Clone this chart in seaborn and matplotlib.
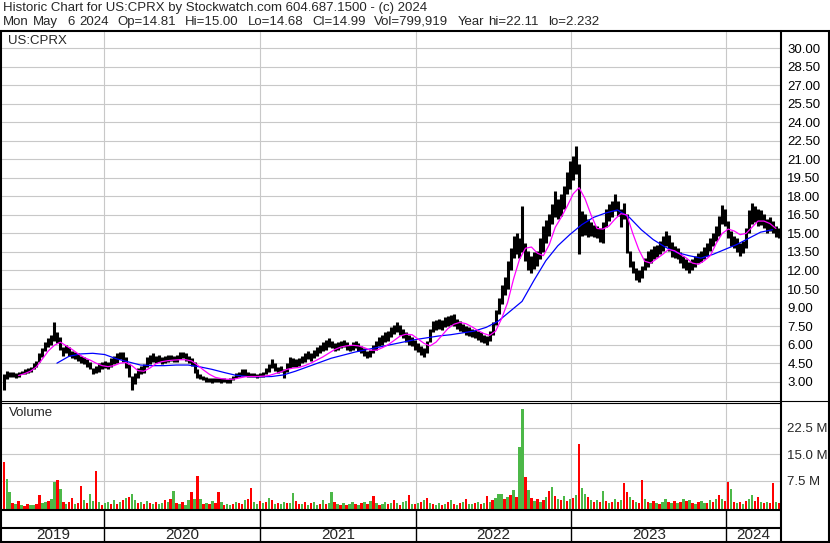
import numpy as np
import pandas as pd
import matplotlib
matplotlib.use("Agg")
import matplotlib.pyplot as plt
import seaborn as sns

W, H = 830, 543
sns.set_style("white")
plt.rcParams['font.family'] = ['Liberation Sans', 'DejaVu Sans']

# ---------------- data ----------------
week_dates = pd.date_range("2019-05-10", periods=261, freq="7D")

price_low = [
    2.3, 3.2, 3.4, 3.4, 3.3, 3.4, 3.6, 3.6, 3.7, 3.8,
    4.0, 4.2, 4.6, 5.0, 5.5, 5.8, 6.0, 6.3, 6.1, 5.6,
    5.1, 5.3, 5.1, 4.9, 4.8, 4.7, 4.5, 4.4, 4.2, 4.0,
    3.6, 3.7, 3.8, 4.0, 4.1, 4.0, 4.2, 4.4, 4.5, 4.8,
    4.6, 4.1, 3.4, 2.3, 2.8, 3.3, 3.6, 3.7, 4.2, 4.4,
    4.6, 4.5, 4.6, 4.4, 4.5, 4.6, 4.7, 4.6, 4.6, 4.8,
    4.9, 4.7, 4.5, 4.3, 3.7, 3.3, 3.2, 3.1, 3.0, 3.0,
    2.9, 3.0, 3.0, 2.9, 3.0, 2.9, 2.9, 3.1, 3.3, 3.4,
    3.5, 3.5, 3.4, 3.4, 3.4, 3.3, 3.4, 3.4, 3.6, 3.8,
    4.1, 3.9, 3.7, 3.8, 3.3, 3.8, 4.1, 4.2, 4.2, 4.3,
    4.5, 4.6, 4.8, 4.7, 4.9, 5.1, 5.3, 5.5, 5.6, 5.8,
    5.7, 5.5, 5.6, 5.7, 5.8, 5.6, 5.5, 5.6, 5.7, 5.5,
    5.3, 5.1, 4.9, 5.0, 5.3, 5.6, 5.9, 6.0, 6.2, 6.3,
    6.6, 6.9, 7.0, 6.8, 6.5, 6.2, 6.0, 5.9, 5.6, 5.4,
    5.2, 5.0, 5.3, 6.2, 7.0, 7.2, 7.3, 7.2, 7.4, 7.5,
    7.6, 7.5, 7.3, 7.1, 7.0, 6.8, 6.7, 6.6, 6.5, 6.4,
    6.2, 6.1, 6.0, 6.3, 6.8, 7.6, 8.5, 9.3, 10.0, 10.5,
    12.0, 13.0, 13.3, 13.0, 13.5, 12.8, 12.0, 11.8, 12.1, 12.4,
    12.9, 13.5, 14.2, 14.8, 15.8, 16.3, 16.2, 16.4, 17.0, 18.2,
    18.6, 19.3, 19.8, 13.3, 14.8, 14.9, 14.7, 14.8, 14.7, 14.6,
    14.3, 14.2, 15.5, 16.0, 16.3, 16.8, 16.4, 15.5, 16.2, 13.4,
    12.3, 11.8, 11.2, 11.1, 11.4, 12.0, 12.3, 12.6, 12.9, 13.1,
    13.3, 13.6, 14.0, 13.6, 13.1, 13.0, 12.9, 12.6, 12.2, 12.0,
    11.8, 12.0, 12.3, 12.6, 12.7, 12.9, 13.2, 13.6, 14.0, 14.4,
    14.8, 15.8, 15.6, 14.6, 14.0, 13.8, 13.5, 13.2, 13.4, 13.8,
    15.0, 15.8, 15.9, 15.6, 15.7, 15.4, 15.0, 15.2, 15.0, 14.7,
    14.6,
]

price_high = [
    3.6, 3.9, 3.8, 3.8, 3.7, 3.8, 3.9, 4.0, 4.1, 4.2,
    4.5, 4.7, 5.3, 5.7, 6.2, 6.5, 6.8, 7.8, 7.0, 6.6,
    5.8, 6.0, 5.8, 5.5, 5.4, 5.3, 5.1, 5.0, 4.8, 4.6,
    4.1, 4.3, 4.5, 4.6, 4.7, 4.6, 4.9, 5.1, 5.3, 5.4,
    5.4, 5.0, 4.4, 3.5, 3.7, 4.1, 4.3, 4.4, 5.0, 5.2,
    5.3, 5.1, 5.2, 5.0, 5.1, 5.2, 5.2, 5.1, 5.2, 5.4,
    5.4, 5.3, 5.1, 4.9, 4.6, 4.0, 3.6, 3.5, 3.4, 3.3,
    3.3, 3.3, 3.3, 3.3, 3.3, 3.2, 3.3, 3.5, 3.7, 3.8,
    4.0, 4.0, 3.8, 3.7, 3.7, 3.6, 3.7, 3.8, 4.1, 4.4,
    4.8, 4.5, 4.2, 4.3, 4.0, 4.5, 5.0, 4.9, 4.8, 4.9,
    5.1, 5.3, 5.5, 5.3, 5.6, 5.8, 6.0, 6.2, 6.4, 6.5,
    6.3, 6.1, 6.2, 6.3, 6.4, 6.2, 6.0, 6.2, 6.3, 6.1,
    5.9, 5.7, 5.5, 5.6, 6.0, 6.3, 6.6, 6.8, 7.0, 7.1,
    7.4, 7.6, 7.8, 7.6, 7.3, 7.0, 6.8, 6.6, 6.4, 6.1,
    5.9, 5.7, 6.3, 7.3, 7.9, 8.0, 8.1, 8.0, 8.2, 8.3,
    8.4, 8.5, 8.1, 7.9, 7.7, 7.5, 7.4, 7.3, 7.2, 7.1,
    7.0, 6.8, 6.7, 7.1, 7.8, 8.8, 9.8, 10.8, 11.5, 12.8,
    13.8, 14.8, 15.0, 14.6, 17.2, 14.2, 13.6, 13.2, 13.5, 13.6,
    14.6, 15.6, 16.1, 16.6, 17.4, 18.4, 17.8, 18.2, 18.8, 20.0,
    20.9, 21.3, 22.1, 20.6, 16.8, 16.6, 16.2, 15.9, 15.7, 15.6,
    15.4, 15.9, 17.0, 17.4, 17.6, 18.2, 17.6, 17.0, 17.5, 16.6,
    13.6, 12.8, 12.2, 12.0, 12.4, 13.0, 13.6, 13.7, 14.0, 14.1,
    14.4, 14.8, 15.2, 14.9, 14.3, 14.0, 13.8, 13.5, 13.2, 12.9,
    12.7, 12.9, 13.2, 13.4, 13.6, 13.9, 14.2, 14.6, 15.0, 15.6,
    16.4, 17.3, 17.0, 16.0, 15.2, 14.8, 14.6, 14.2, 14.4, 15.4,
    16.9, 17.5, 17.2, 17.0, 16.9, 16.6, 16.2, 16.3, 16.0, 15.6,
    15.4,
]

# weekly volume in millions, and direction (G = up, R = down)
volume_m = [
    13.5, 8.8, 5.2, 2.1, 1.6, 2.5, 1.4, 1.2, 1.8, 1.5,
    1.3, 1.7, 4.2, 1.9, 2.2, 2.6, 3.0, 7.9, 8.4, 6.0,
    2.4, 1.8, 2.2, 3.4, 1.6, 2.0, 6.7, 2.8, 1.9, 4.5,
    2.6, 11.0, 2.2, 1.5, 1.9, 2.4, 1.7, 2.8, 1.6, 2.3,
    2.9, 3.3, 3.8, 4.5, 2.7, 2.1, 2.3, 1.8, 2.6, 1.9,
    1.7, 2.4, 1.6, 2.0, 2.9, 2.2, 3.1, 5.4, 2.0, 1.8,
    2.3, 1.5, 2.7, 5.0, 3.2, 9.6, 3.0, 1.8, 2.1, 1.6,
    2.5, 1.9, 5.0, 2.2, 1.4, 1.7, 1.3, 1.8, 2.4, 2.0,
    1.6, 2.9, 3.1, 6.2, 2.3, 1.8, 2.6, 2.0, 2.2, 3.5,
    2.8, 1.7, 2.1, 1.6, 2.4, 2.0, 1.9, 4.8, 2.5, 1.8,
    1.6, 2.2, 1.4, 1.9, 2.3, 1.5, 1.8, 2.7, 1.6, 2.1,
    5.0, 2.4, 1.7, 1.5, 2.0, 1.3, 1.8, 2.2, 1.6, 1.4,
    1.9, 2.3, 1.7, 2.6, 4.0, 2.1, 1.5, 1.8, 2.4, 1.6,
    2.0, 2.8, 1.9, 1.5, 2.2, 2.6, 4.3, 1.8, 1.6, 2.1,
    2.4, 2.9, 3.3, 2.0, 1.7, 1.5, 1.9, 1.4, 1.6, 2.2,
    2.8, 1.7, 1.5, 1.9, 2.3, 3.2, 1.8, 1.6, 2.0, 2.4,
    1.7, 2.1, 3.9, 2.2, 2.8, 3.4, 4.5, 4.5, 3.0, 3.6,
    4.2, 5.6, 3.8, 17.7, 28.7, 9.3, 5.6, 3.4, 2.6, 3.0,
    2.4, 2.8, 3.6, 5.4, 6.5, 4.0, 3.2, 2.7, 3.9, 2.5,
    3.0, 3.4, 4.2, 18.6, 6.2, 4.5, 3.6, 2.9, 2.4, 2.7,
    2.2, 5.3, 2.6, 2.0, 2.4, 3.1, 2.2, 2.8, 7.6, 5.0,
    3.6, 2.8, 2.4, 2.0, 8.4, 3.0, 2.2, 1.9, 2.5, 2.1,
    1.8, 2.3, 3.0, 2.4, 1.9, 2.6, 2.0, 2.2, 3.2, 2.5,
    2.8, 2.0, 1.7, 2.3, 2.6, 1.9, 2.1, 2.8, 2.4, 3.0,
    4.2, 3.0, 2.6, 8.0, 5.9, 2.4, 2.0, 2.3, 1.8, 2.6,
    3.1, 4.2, 2.5, 3.7, 2.2, 2.0, 2.4, 1.9, 7.7, 2.3,
    2.1,
]
volume_dir = (
    "RGGRGRGRRG" "GRRGGRGGRG" "RGRRGRRGRG" "GRGRGGRGRG" "RGRGGRGRGR"
    "GRGGRGRGRG" "RGGRGRGRGR" "GRRGRGGRGR" "RGRRGGRGRG" "RGRGGRGGRR"
    "GRGRGGRGRG" "GRGRGRGGRG" "RGRGRGRGGR" "GRGRGGRGRG" "RGRGRGGRGR"
    "GRGRGRGGRG" "RGRGRGGGRG" "RGRGGRGRGR" "GRGRGRGRGR" "GRGRGGRGRG"
    "RGRGRGRGRR" "GRGRRGRGRG" "RGGRGRGRGR" "GRGRGGRGRG" "RGRRGRGRGR"
    "GGRRGRGRRG" "R"
)

ma_fast_dates = pd.date_range("2019-06-14", periods=128, freq="14D")
ma_fast = [
    3.5, 3.65, 3.85, 4.2, 4.85, 5.5, 5.95, 6.2, 5.9, 5.6,
    5.25, 4.95, 4.75, 4.5, 4.3, 4.22, 4.3, 4.5, 4.55, 4.3,
    3.9, 3.85, 4.1, 4.45, 4.62, 4.7, 4.75, 4.78, 4.78, 4.68,
    4.35, 3.95, 3.6, 3.35, 3.25, 3.2, 3.2, 3.3, 3.4, 3.42,
    3.42, 3.45, 3.5, 3.65, 3.8, 4.0, 4.1, 4.15, 4.3, 4.5,
    4.75, 5.0, 5.3, 5.6, 5.8, 5.9, 5.95, 5.9, 5.75, 5.55,
    5.55, 5.75, 6.0, 6.35, 6.7, 6.85, 6.8, 6.45, 6.1, 5.9,
    6.2, 6.75, 7.3, 7.65, 7.8, 7.7, 7.45, 7.15, 6.9, 6.75,
    7.1, 8.1, 9.4, 11.3, 12.9, 13.8, 13.9, 13.4, 13.2, 14.1,
    15.5, 16.3, 17.2, 18.2, 18.7, 17.8, 16.5, 15.4, 15.35, 15.6,
    16.15, 16.6, 16.5, 15.0, 13.7, 12.75, 12.6, 12.95, 13.3, 13.7,
    13.6, 13.3, 13.0, 12.6, 12.5, 12.8, 13.2, 14.2, 15.0, 15.35,
    15.2, 14.9, 15.0, 15.5, 16.0, 16.0, 15.8, 15.4,
]

ma_slow_dates = pd.date_range("2019-09-12", periods=61, freq="28D")
ma_slow = [
    4.5, 5.05, 5.25, 5.3, 5.2, 4.85, 4.6, 4.35, 4.3, 4.3,
    4.35, 4.35, 4.2, 4.0, 3.75, 3.52, 3.42, 3.4, 3.42, 3.55,
    3.85, 4.2, 4.55, 4.9, 5.15, 5.4, 5.6, 5.8, 6.0, 6.2,
    6.4, 6.55, 6.7, 6.8, 6.95, 7.1, 7.4, 7.9, 8.7, 9.5,
    11.2, 12.8, 14.0, 14.9, 15.7, 16.3, 16.65, 16.9, 16.3, 15.3,
    14.5, 13.9, 13.45, 13.2, 13.0, 13.3, 13.7, 14.1, 14.6, 15.1,
    15.3,
]

price_ticks = [3.0, 4.5, 6.0, 7.5, 9.0, 10.5, 12.0, 13.5, 15.0, 16.5,
               18.0, 19.5, 21.0, 22.5, 24.0, 25.5, 27.0, 28.5, 30.0]
vol_ticks = [7.5, 15.0, 22.5]
vol_tick_labels = ["7.5 M", "15.0 M", "22.5 M"]
year_starts = ["2020-01-01", "2021-01-01", "2022-01-01", "2023-01-01", "2024-01-01"]
year_labels = ["2019", "2020", "2021", "2022", "2023", "2024"]

header1 = "Historic Chart for US:CPRX by Stockwatch.com 604.687.1500 - (c) 2024"
header2 = ("Mon May  6 2024  Op=14.81  Hi=15.00  Lo=14.68  Cl=14.99  "
           "Vol=799,919  Year hi=22.11  lo=2.232")

# ---------------- layout ----------------
x_start = pd.Timestamp("2019-05-06")
x_end = pd.Timestamp("2024-05-08")
ys = pd.to_datetime(year_starts)

fig = plt.figure(figsize=(W / 100, H / 100), dpi=100)


def fax(x0, y0, x1, y1, **kw):
    return fig.add_axes([x0 / W, 1 - y1 / H, (x1 - x0) / W, (y1 - y0) / H], **kw)


grid_kw = dict(color="#c8c8c8", linewidth=0.8)

# price panel
ax_p = fax(2, 32, 781, 400)
ax_p.set_xlim(x_start, x_end)
ax_p.set_ylim(1.52, 31.3)
ax_p.set_yticks(price_ticks)
ax_p.set_yticklabels([f"{t:.2f}" for t in price_ticks])
ax_p.yaxis.tick_right()
ax_p.tick_params(axis="y", length=0, pad=4.5, labelsize=9.5, labelcolor="#000000")
ax_p.set_xticks(ys)
ax_p.tick_params(axis="x", length=0, labelbottom=False)
ax_p.grid(True, **grid_kw)
ax_p.set_axisbelow(True)
for s in ax_p.spines.values():
    s.set_visible(False)

ax_p.vlines(week_dates, price_low, price_high, color="black", linewidth=2.2, zorder=2)
sns.lineplot(x=ma_slow_dates, y=ma_slow, ax=ax_p, color="#0000FF", linewidth=0.9, zorder=3)
sns.lineplot(x=ma_fast_dates, y=ma_fast, ax=ax_p, color="#FF00FF", linewidth=0.9, zorder=4)
ax_p.set_xlabel("")
ax_p.set_ylabel("")
ax_p.set_xlim(x_start, x_end)

# volume panel
ax_v = fax(2, 403, 781, 510)
vol_floor = -0.8
ax_v.set_xlim(x_start, x_end)
ax_v.set_ylim(vol_floor, 29.5)
ax_v.set_yticks(vol_ticks)
ax_v.set_yticklabels(vol_tick_labels)
ax_v.yaxis.tick_right()
ax_v.tick_params(axis="y", length=0, pad=4.5, labelsize=9.5)
ax_v.set_xticks(ys)
ax_v.tick_params(axis="x", length=0, labelbottom=False)
ax_v.grid(True, **grid_kw)
ax_v.set_axisbelow(True)
for s in ax_v.spines.values():
    s.set_visible(False)
cmap = {"G": "#4CB848", "R": "#FF0000"}
ax_v.bar(week_dates, volume_m, width=5.5, bottom=vol_floor,
         color=[cmap[c] for c in volume_dir], linewidth=0, zorder=2)

# year strip
ax_y = fax(2, 510, 781, 542)
ax_y.set_xlim(x_start, x_end)
ax_y.set_ylim(0, 1)
ax_y.axis("off")
ax_y.vlines(ys, 0, 1, color="black", linewidth=1.0)
bounds = [x_start] + list(ys) + [pd.Timestamp("2024-05-08")]
for lab, a, b in zip(year_labels, bounds[:-1], bounds[1:]):
    ax_y.text(a + (b - a) / 2, 0.22, lab, ha="center", va="center", fontsize=11)

# frame
ax_f = fig.add_axes([0, 0, 1, 1], zorder=10)
ax_f.set_xlim(0, W)
ax_f.set_ylim(H, 0)
ax_f.axis("off")
ax_f.patch.set_alpha(0)
lw2 = 1.5
ax_f.plot([0, 830], [31, 31], color="black", lw=lw2)
ax_f.plot([1, 1], [31, 542], color="black", lw=lw2)
ax_f.plot([781, 781], [31, 542], color="black", lw=lw2)
ax_f.plot([828.5, 828.5], [31, 542], color="black", lw=lw2)
ax_f.plot([0, 830], [400.5, 400.5], color="black", lw=0.8)
ax_f.plot([0, 781], [402.8, 402.8], color="black", lw=0.8)
ax_f.plot([0, 781], [510, 510], color="black", lw=lw2)
ax_f.plot([0, 781], [527.5, 527.5], color="black", lw=lw2)
ax_f.plot([0, 830], [541.5, 541.5], color="black", lw=lw2)

fig.text(3 / W, 1 - 8.5 / H, header1, ha="left", va="center", fontsize=9.5)

# second header line: words placed one after another with slightly wider spaces
renderer = fig.canvas.get_renderer()
x_px = 3.0
space_px = 4.45
for word in header2.split(" "):
    if word:
        t = fig.text(x_px / W, 1 - 22 / H, word, ha="left", va="center", fontsize=9.5)
        x_px += t.get_window_extent(renderer).width
    x_px += space_px

fig.text(8 / W, 1 - 41 / H, "US:CPRX", ha="left", va="center", fontsize=9.5)
fig.text(9 / W, 1 - 413 / H, "Volume", ha="left", va="center", fontsize=9.5)

fig.savefig("out.png", dpi=100)
